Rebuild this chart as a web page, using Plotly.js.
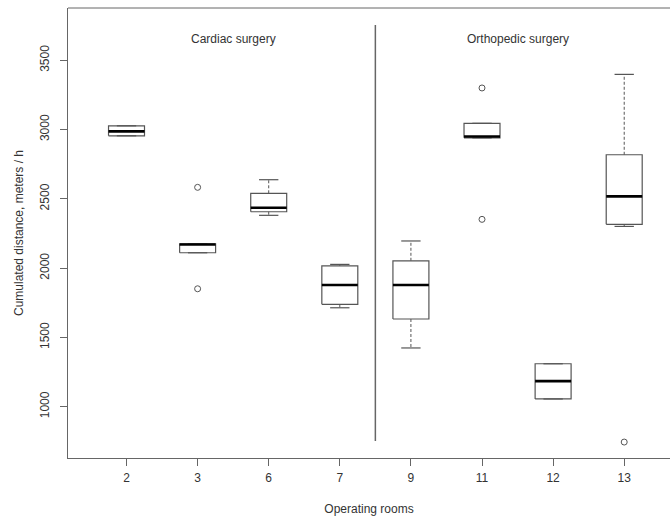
<!DOCTYPE html>
<html>
<head>
<meta charset="utf-8">
<script src="https://cdn.plot.ly/plotly-3.0.1.min.js"></script>
<style>
  html, body { margin: 0; padding: 0; background: #fff; overflow: hidden; }
  #chart { width: 670px; height: 516px; }
</style>
</head>
<body>
<div id="chart"></div>
<script>
// ---- data ----
const rooms = ['2', '3', '6', '7', '9', '11', '12', '13'];
const groupLabels = ['Cardiac surgery', 'Orthopedic surgery'];
const q1 = [2955, 2111, 2407, 1739, 1633, 2940, 1056, 2316];
const median = [2987, 2170, 2436, 1878, 1878, 2950, 1185, 2518];
const q3 = [3027, 2176, 2540, 2017, 2053, 3045, 1310, 2818];
const whiskerLow = [2955, 2111, 2381, 1714, 1424, 2940, 1056, 2301];
const whiskerHigh = [3027, 2176, 2638, 2027, 2196, 3045, 1310, 3398];
const outlierRoom = ['3', '3', '11', '11', '13'];
const outlierValue = [2583, 1851, 3300, 2352, 745];
const yTicks = [1000, 1500, 2000, 2500, 3000, 3500];
const separatorRange = [752, 3755];   // vertical divider between the two groups
const groupLabelY = 3652;

// ---- drawing helpers ----
const boxHalf = 0.253;     // half box width in category units
const stapleHalf = 0.136;  // half staple width
const idx = rooms.map((_, i) => i);

const boxX = [], boxY = [], medX = [], medY = [], whX = [], whY = [], stX = [], stY = [];
idx.forEach(i => {
  boxX.push(i - boxHalf, i + boxHalf, i + boxHalf, i - boxHalf, i - boxHalf, null);
  boxY.push(q1[i], q1[i], q3[i], q3[i], q1[i], null);
  medX.push(i - boxHalf, i + boxHalf, null);
  medY.push(median[i], median[i], null);
  if (whiskerHigh[i] > q3[i]) { whX.push(i, i, null); whY.push(q3[i], whiskerHigh[i], null); }
  if (whiskerLow[i] < q1[i]) { whX.push(i, i, null); whY.push(q1[i], whiskerLow[i], null); }
  stX.push(i - stapleHalf, i + stapleHalf, null, i - stapleHalf, i + stapleHalf, null);
  stY.push(whiskerHigh[i], whiskerHigh[i], null, whiskerLow[i], whiskerLow[i], null);
});

const lineCol = '#555555';
const traces = [
  { type: 'scatter', mode: 'lines', x: whX, y: whY, hoverinfo: 'skip',
    line: { color: lineCol, width: 1, dash: '3px,2px' }, showlegend: false },
  { type: 'scatter', mode: 'lines', x: stX, y: stY, hoverinfo: 'skip',
    line: { color: lineCol, width: 1.2 }, showlegend: false },
  { type: 'scatter', mode: 'lines', x: boxX, y: boxY, hoverinfo: 'skip',
    line: { color: lineCol, width: 1.2 }, showlegend: false },
  { type: 'scatter', mode: 'lines', x: medX, y: medY, hoverinfo: 'skip',
    line: { color: '#000000', width: 2.6 }, showlegend: false },
  { type: 'scatter', mode: 'markers', x: outlierRoom.map(r => rooms.indexOf(r)), y: outlierValue,
    marker: { symbol: 'circle-open', size: 6, color: lineCol, line: { width: 1, color: lineCol } },
    showlegend: false },
  { type: 'scatter', mode: 'lines', x: [3.5, 3.5], y: separatorRange, hoverinfo: 'skip',
    line: { color: '#666666', width: 1.5 }, showlegend: false }
];

const font = { family: '"Liberation Sans", Arial, sans-serif', size: 12, color: '#333333' };

const layout = {
  width: 670, height: 516,
  margin: { l: 68, r: 0, t: 8, b: 58 },
  paper_bgcolor: '#ffffff', plot_bgcolor: '#ffffff',
  font: font,
  showlegend: false,
  xaxis: {
    range: [-0.823, 7.644],
    tickvals: idx, ticktext: rooms,
    showgrid: false, zeroline: false,
    showline: true, linecolor: '#666666', linewidth: 1,
    ticks: 'outside', ticklen: 7, tickcolor: '#666666',
    ticklabelstandoff: 2,
    tickfont: font,
    title: { text: 'Operating rooms', font: font, standoff: 22 }
  },
  yaxis: {
    range: [630, 3877],
    tickvals: yTicks, ticktext: yTicks.map(String),
    tickangle: -90,
    showgrid: false, zeroline: false,
    showline: true, linecolor: '#666666', linewidth: 1,
    ticks: 'outside', ticklen: 7, tickcolor: '#666666',
    ticklabelstandoff: 6,
    tickfont: font,
    title: { text: 'Cumulated distance, meters / h', font: font, standoff: 12 }
  },
  shapes: [
    { type: 'line', xref: 'paper', yref: 'paper', x0: 0, x1: 1, y0: 1, y1: 1,
      line: { color: '#666666', width: 1 } }
  ],
  annotations: [
    { x: 1.5, y: groupLabelY, xref: 'x', yref: 'y', text: groupLabels[0], showarrow: false, font: font },
    { x: 5.5, y: groupLabelY, xref: 'x', yref: 'y', text: groupLabels[1], showarrow: false, font: font }
  ]
};

Plotly.newPlot('chart', traces, layout, { displayModeBar: false, staticPlot: true });
</script>
</body>
</html>
